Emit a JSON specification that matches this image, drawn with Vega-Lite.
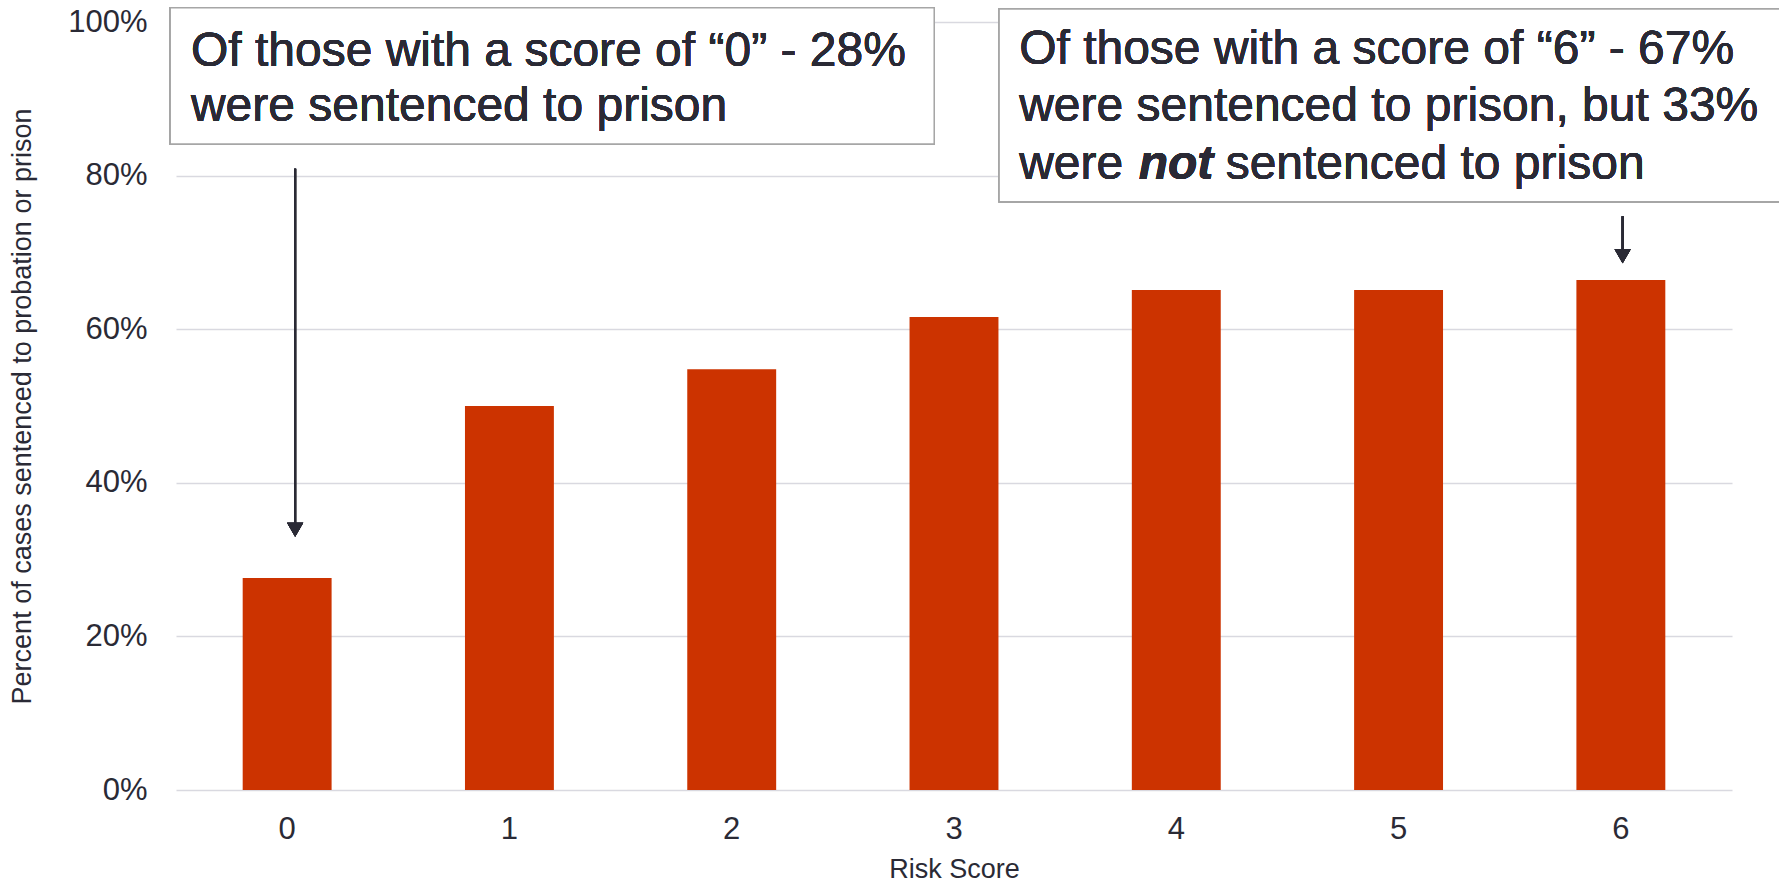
{
  "$schema": "https://vega.github.io/schema/vega-lite/v6.json",
  "autosize": {"type": "none"},
  "width": 1556,
  "height": 768,
  "padding": {"left": 176, "top": 22, "right": 47, "bottom": 94},
  "background": "white",
  "config": {
    "view": {"stroke": null},
    "font": "Liberation Sans",
    "axis": {"labelFont": "Liberation Sans", "titleFont": "Liberation Sans", "labelColor": "#2a2a35", "titleColor": "#2a2a35", "titleFontWeight": "normal"}
  },
  "data": {"values": [
    {"score": "0", "pct": 0.276},
    {"score": "1", "pct": 0.500},
    {"score": "2", "pct": 0.548},
    {"score": "3", "pct": 0.616},
    {"score": "4", "pct": 0.651},
    {"score": "5", "pct": 0.651},
    {"score": "6", "pct": 0.664}
  ]},
  "resolve": {"scale": {"x": "independent", "y": "independent"}},
  "layer": [
    {
      "mark": {"type": "bar", "color": "#CC3300"},
      "encoding": {
        "x": {"field": "score", "type": "ordinal", "sort": null,
          "scale": {"paddingInner": 0.6, "paddingOuter": 0.3},
          "axis": {"title": "Risk Score", "titleFontSize": 27, "titlePadding": 12, "labelFontSize": 31, "labelAngle": 0, "labelPadding": 24, "domain": false, "ticks": false}},
        "y": {"field": "pct", "type": "quantitative",
          "scale": {"domain": [0, 1], "nice": false},
          "axis": {"title": "Percent of cases sentenced to probation or prison", "titleFontSize": 27, "titlePadding": 31, "labelFontSize": 31, "labelPadding": 29, "format": ".0%", "values": [0, 0.2, 0.4, 0.6, 0.8, 1], "domain": false, "ticks": false, "gridColor": "#d9d9e0", "gridWidth": 1.5}}
      }
    },
    {
      "layer": [
        {
          "mark": {"type": "rect", "fill": "white", "stroke": "#a6a6a6", "strokeWidth": 1.5, "clip": false},
          "encoding": {
            "x": {"datum": -0.526, "type": "quantitative", "scale": {"domain": [-0.5, 6.5], "nice": false, "zero": false}, "axis": null},
            "x2": {"datum": 2.911},
            "y": {"datum": 1.0185, "type": "quantitative", "scale": {"domain": [0, 1], "nice": false}, "axis": null},
            "y2": {"datum": 0.841}
          }
        },
        {
          "mark": {"type": "rect", "fill": "white", "stroke": "#a6a6a6", "strokeWidth": 1.5, "clip": false},
          "encoding": {
            "x": {"datum": 3.203, "type": "quantitative"},
            "x2": {"datum": 7.0},
            "y": {"datum": 1.017, "type": "quantitative"},
            "y2": {"datum": 0.766}
          }
        },
        {
          "mark": {"type": "text", "align": "left", "baseline": "alphabetic", "fontSize": 48, "lineHeight": 55, "color": "#2a2a35", "font": "Liberation Sans",
            "text": ["Of those with a score of \u201c0\u201d - 28%", "were sentenced to prison"]},
          "encoding": {
            "x": {"datum": -0.433, "type": "quantitative"},
            "y": {"datum": 0.943, "type": "quantitative"}
          }
        },
        {
          "mark": {"type": "text", "align": "left", "baseline": "alphabetic", "fontSize": 48, "lineHeight": 57, "color": "#2a2a35", "font": "Liberation Sans",
            "text": ["Of those with a score of \u201c6\u201d - 67%", "were sentenced to prison, but 33%"]},
          "encoding": {
            "x": {"datum": 3.293, "type": "quantitative"},
            "y": {"datum": 0.945, "type": "quantitative"}
          }
        },
        {
          "mark": {"type": "text", "align": "left", "baseline": "alphabetic", "fontSize": 48, "color": "#2a2a35", "font": "Liberation Sans", "text": "were"},
          "encoding": {
            "x": {"datum": 3.293, "type": "quantitative"},
            "y": {"datum": 0.795, "type": "quantitative"}
          }
        },
        {
          "mark": {"type": "text", "align": "left", "baseline": "alphabetic", "fontSize": 48, "fontWeight": "bold", "fontStyle": "italic", "color": "#2a2a35", "font": "Liberation Sans", "text": "not"},
          "encoding": {
            "x": {"datum": 3.831, "type": "quantitative"},
            "y": {"datum": 0.795, "type": "quantitative"}
          }
        },
        {
          "mark": {"type": "text", "align": "left", "baseline": "alphabetic", "fontSize": 48, "color": "#2a2a35", "font": "Liberation Sans", "text": "sentenced to prison"},
          "encoding": {
            "x": {"datum": 4.222, "type": "quantitative"},
            "y": {"datum": 0.795, "type": "quantitative"}
          }
        },
        {
          "mark": {"type": "rule", "color": "#2a2a35", "strokeWidth": 2},
          "encoding": {
            "x": {"datum": 0.036, "type": "quantitative"},
            "y": {"datum": 0.809, "type": "quantitative"},
            "y2": {"datum": 0.346}
          }
        },
        {
          "mark": {"type": "point", "shape": "triangle-down", "filled": true, "size": 260, "color": "#2a2a35", "opacity": 1},
          "encoding": {
            "x": {"datum": 0.036, "type": "quantitative"},
            "y": {"datum": 0.339, "type": "quantitative"}
          }
        },
        {
          "mark": {"type": "rule", "color": "#2a2a35", "strokeWidth": 2},
          "encoding": {
            "x": {"datum": 6.008, "type": "quantitative"},
            "y": {"datum": 0.747, "type": "quantitative"},
            "y2": {"datum": 0.702}
          }
        },
        {
          "mark": {"type": "point", "shape": "triangle-down", "filled": true, "size": 260, "color": "#2a2a35", "opacity": 1},
          "encoding": {
            "x": {"datum": 6.008, "type": "quantitative"},
            "y": {"datum": 0.695, "type": "quantitative"}
          }
        }
      ]
    }
  ]
}
